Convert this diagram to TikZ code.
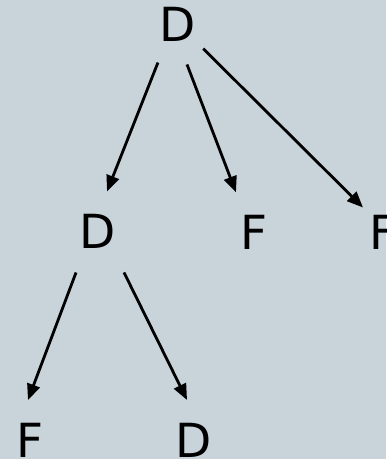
\documentclass[tikz,border=0pt]{standalone}
\usepackage{fontspec}
\setmainfont{DejaVu Sans}
\usetikzlibrary{arrows.meta}
\definecolor{bgc}{RGB}{200,211,218}
\begin{document}
\begin{tikzpicture}[x=1bp,y=-1bp,
  lab/.style={inner sep=0pt,outer sep=0pt,font=\fontsize{47bp}{50bp}\selectfont},
  arr/.style={line width=2.8bp,-{Triangle[length=16bp,width=13bp]}}]
\fill[bgc] (0,0) rectangle (386,459);
\useasboundingbox (0,0) rectangle (386,459);
\node[lab] (tD) at (178,24.5) {D};
\node[lab] (mD) at (98,231.5) {D};
\node[lab] (mF) at (254,232.5) {F};
\node[lab] (rF) at (383,232.5) {F};
\node[lab] (bF) at (30,440) {F};
\node[lab] (bD) at (194,440) {D};
\draw[arr] ([shift={(242.2:43bp)}]tD.center) -- ([shift={(77.3:41bp)}]mD.center);
\draw[arr] ([shift={(-77.3:41bp)}]tD.center) -- ([shift={(114.2:44bp)}]mF.center);
\draw[arr] ([shift={(-43.8:35bp)}]tD.center) -- ([shift={(128.7:32bp)}]rF.center);
\draw[arr] ([shift={(-118.2:46.5bp)}]mD.center) -- ([shift={(92.9:40bp)}]bF.center);
\draw[arr] ([shift={(-57.6:48.5bp)}]mD.center) -- ([shift={(99.9:40.6bp)}]bD.center);
\end{tikzpicture}
\end{document}
